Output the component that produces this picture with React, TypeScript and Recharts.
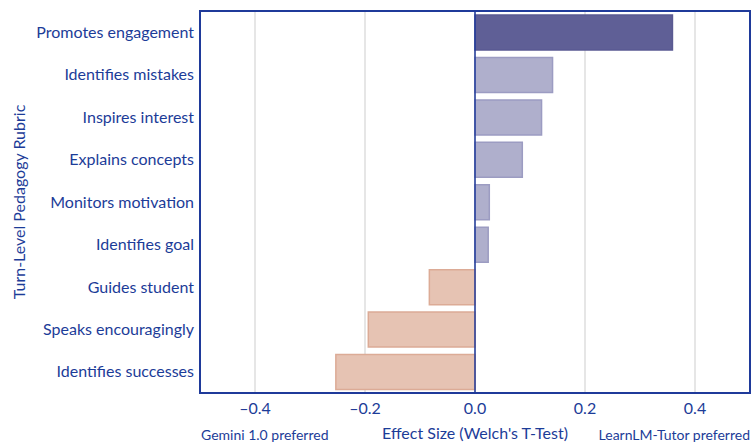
import { BarChart, Bar, Cell, XAxis, YAxis, CartesianGrid, ReferenceLine, ReferenceArea, Label } from 'recharts';

const rubrics = [
  'Promotes engagement',
  'Identifies mistakes',
  'Inspires interest',
  'Explains concepts',
  'Monitors motivation',
  'Identifies goal',
  'Guides student',
  'Speaks encouragingly',
  'Identifies successes',
];
const effectSizes = [0.359, 0.141, 0.121, 0.086, 0.026, 0.024, -0.083, -0.194, -0.253];
const xTicks = [-0.4, -0.2, 0, 0.2, 0.4];

const BLUE = '#1f3a9a';
const TEXT = '#1c3c98';
const FONT = 'Lato, "Noto Sans", sans-serif';

const data = rubrics.map((name, i) => ({ name, value: effectSizes[i] }));

function barColor(i: number, v: number) {
  if (i === 0) return { fill: '#5f5f96', stroke: '#5a5a92' };
  if (v >= 0) return { fill: '#afafcc', stroke: '#9c9cc2' };
  return { fill: '#e6c3b3', stroke: '#dcab96' };
}

const BottomLabels = (props: any) => {
  const { x, y, width } = props.viewBox;
  return (
    <g fontFamily={FONT} fill={TEXT}>
      <text x={x + 1} y={y + 47} fontSize={14} textAnchor="start">Gemini 1.0 preferred</text>
      <text x={x + width / 2} y={y + 46} fontSize={16} textAnchor="middle">Effect Size (Welch's T-Test)</text>
      <text x={x + width} y={y + 47} fontSize={14} textAnchor="end">LearnLM-Tutor preferred</text>
    </g>
  );
};

export default function App() {
  return (
    <div style={{ position: 'absolute', left: 0, top: 0, width: 751, height: 443, background: '#fff' }}>
      <BarChart
        width={751}
        height={443}
        data={data}
        layout="vertical"
        margin={{ top: 11, right: 1, left: 0, bottom: 0 }}
        barSize={35}
      >
        <CartesianGrid horizontal={false} vertical stroke="#e6e6e6" strokeWidth={2} />
        <XAxis
          type="number"
          domain={[-0.5, 0.5]}
          ticks={xTicks}
          tickFormatter={(v: number) => (v < 0 ? '\u2013' + Math.abs(v).toFixed(1) : v.toFixed(1))}
          tick={{ fill: TEXT, fontSize: 16, fontFamily: FONT }}
          tickLine={false}
          axisLine={{ stroke: BLUE, strokeWidth: 2 }}
          height={50}
          tickMargin={4}
        >
          <Label content={BottomLabels} />
        </XAxis>
        <YAxis
          type="category"
          dataKey="name"
          width={200}
          tick={{ fill: TEXT, fontSize: 16, fontFamily: FONT }}
          tickLine={false}
          axisLine={{ stroke: BLUE, strokeWidth: 2 }}
          tickMargin={0}
        >
          <Label
            value="Turn-Level Pedagogy Rubric"
            angle={-90}
            position="insideLeft"
            offset={19}
            style={{ textAnchor: 'middle', fill: TEXT, fontSize: 16, fontFamily: FONT }}
          />
        </YAxis>
        <ReferenceArea x1={-0.5} x2={0.5} fill="none" stroke={BLUE} strokeWidth={2} fillOpacity={0} />
        <Bar dataKey="value" isAnimationActive={false} strokeWidth={1.5}>
          {data.map((d, i) => {
            const c = barColor(i, d.value);
            return <Cell key={d.name} fill={c.fill} stroke={c.stroke} />;
          })}
        </Bar>
        <ReferenceLine x={0} stroke={BLUE} strokeWidth={1.5} />
      </BarChart>
    </div>
  );
}
